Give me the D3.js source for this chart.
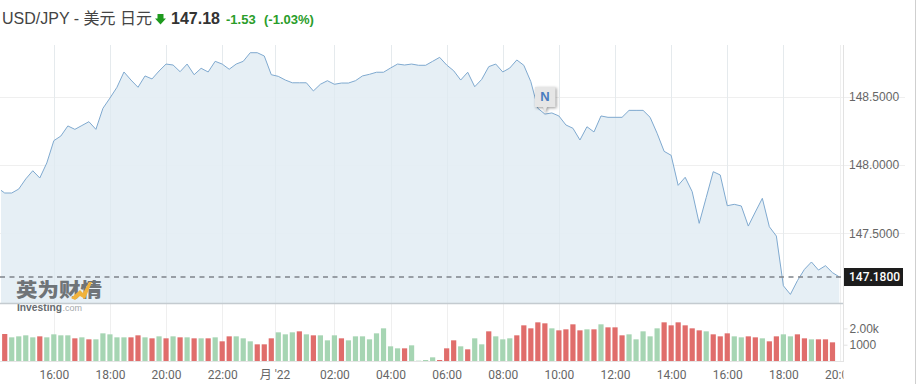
<html lang="zh">
<head>
  <meta charset="UTF-8"/>
  <script src="https://d3js.org/d3.v7.min.js"></script>
  <style>
body { margin: 0; background: #fff; }
svg { display: block; font-family: Roboto, sans-serif; }
.axisText { font-size: 12px; fill: #666; }
.grid { stroke: #efefef; stroke-width: 1; }
  </style>
</head>
<body>
<svg width="918" height="384"></svg>
<script>
// one close every 15 minutes, from 14:00 to 20:00 the next day
const prices = [
  147.832,147.795,147.795,147.824,147.898,147.958,147.905,148.015,148.178,148.212,
  148.286,148.261,148.289,148.317,148.261,148.415,148.490,148.569,148.681,148.622,
  148.569,148.652,148.630,148.688,148.739,148.732,148.683,148.739,148.661,148.708,
  148.681,148.759,148.739,148.701,148.739,148.759,148.822,148.822,148.798,148.661,
  148.649,148.622,148.602,148.602,148.602,148.542,148.591,148.617,148.591,148.600,
  148.600,148.617,148.652,148.664,148.679,148.679,148.710,148.739,148.732,148.739,
  148.730,148.730,148.759,148.788,148.732,148.690,148.622,148.679,148.573,148.627,
  148.720,148.739,148.681,148.710,148.769,148.730,148.610,148.415,148.373,148.381,
  148.359,148.293,148.269,148.183,148.280,148.242,148.359,148.349,148.349,148.349,
  148.400,148.400,148.400,148.349,148.232,148.100,148.071,147.851,147.910,147.805,
  147.573,147.762,147.951,147.927,147.702,147.712,147.700,147.553,147.656,147.756,
  147.548,147.480,147.116,147.053,147.153,147.236,147.290,147.231,147.263,147.212,
  147.180
];

// volume bars start at 14:15 and stop at 19:45
const volumes = [
  1656,1452,1513,1575,1452,1513,1452,1636,1575,1575,1391,1452,1329,1329,1697,1636,
  1452,1452,1452,1575,1452,1391,1513,1391,1513,1452,1452,1391,1391,1391,1452,1207,
  1513,1513,1391,1207,1023,1023,1391,1759,1636,1759,1820,1636,1575,1575,1268,1575,
  1391,1268,1513,1513,1329,1697,2004,900,777,777,961,20,61,225,61,777,1268,900,
  716,1391,1023,1820,1513,1329,1391,1575,2188,2004,2372,2311,2004,1881,1943,2250,
  1881,1943,1943,2250,2065,2065,1575,1636,1329,1820,1513,2004,2372,2188,2372,2188,
  2004,1881,1820,1636,1513,1697,1513,1452,1513,1452,1391,1207,1513,1636,1513,1636,
  1391,1329,1329,1329,1145
];

// r = closed down on the volume panel, g = closed up
const volumeColors = (
  "rgggg rgggg rgrgg gggrr grgrg rgrgr grrgg grrrg" + "g" +
  "grgrg ggrgg ggggg grggg grrrg rggrg ggrrr rrgrr" +
  "rrgrg rrrgg gggrr rrrrg rrrgg rrgrr ggrrg rrrrg ggrgr"
).replace(/ /g, "").split("");

const priceTicks = [147.5, 148, 148.5];
const priceTickLabels = ["147.5000", "148.0000", "148.5000"];
const volumeTicks = [1000, 2000];
const volumeTickLabels = ["1000", "2.00k"];
const lastPrice = 147.18;

const timeTicks = [
  "2022-10-31T16:00", "2022-10-31T18:00", "2022-10-31T20:00", "2022-10-31T22:00",
  "2022-10-31T23:52", "2022-11-01T02:00", "2022-11-01T04:00", "2022-11-01T06:00",
  "2022-11-01T08:00", "2022-11-01T10:00", "2022-11-01T12:00", "2022-11-01T14:00",
  "2022-11-01T16:00", "2022-11-01T18:00", "2022-11-01T20:00"
].map(d => new Date(d));
const timeLabels = ["16:00","18:00","20:00","22:00","月 '22","02:00","04:00","06:00","08:00","10:00","12:00","14:00","16:00","18:00","20:00"];

const start = new Date("2022-10-31T14:00");
const step = 15 * 60 * 1000;
const times = prices.map((d, i) => new Date(+start + i * step));

const svg = d3.select("svg");

const x = d3.scaleTime().domain([times[0], times[times.length - 1]]).range([-2.3, 839.5]);
const y = d3.scaleLinear().domain([148, 147.5]).range([165, 233.3]);
const yVol = d3.scaleLinear().domain([0, 1000]).range([361, 344.7]);

const plotBottom = 303, plotTop = 45, axisX = 843.5;

svg.append("clipPath").attr("id", "plotClip")
  .append("rect").attr("x", 1).attr("y", plotTop).attr("width", 838.7).attr("height", plotBottom - plotTop);
// the last time label is cut off at the axis line
svg.append("clipPath").attr("id", "labelClip")
  .append("rect").attr("x", 0).attr("y", 362).attr("width", axisX).attr("height", 22);

// grid
svg.append("g").selectAll("line").data(timeTicks).join("line")
  .attr("class", "grid")
  .attr("x1", d => Math.round(x(d)) + 0.5).attr("x2", d => Math.round(x(d)) + 0.5)
  .attr("y1", plotTop).attr("y2", 361);
svg.append("g").selectAll("line").data(priceTicks).join("line")
  .attr("class", "grid")
  .attr("x1", 0).attr("x2", 905)
  .attr("y1", d => Math.round(y(d)) + 0.5).attr("y2", d => Math.round(y(d)) + 0.5);

// price area
const area = d3.area().x((d, i) => x(times[i])).y0(plotBottom).y1(d => y(d));
const line = d3.line().x((d, i) => x(times[i])).y(d => y(d));
const plot = svg.append("g").attr("clip-path", "url(#plotClip)");
plot.append("path").datum(prices).attr("d", area).attr("fill", "#e3edf4").attr("fill-opacity", 0.9);
// redraw the gridlines faintly through the area
plot.selectAll("line.v").data(timeTicks).join("line").attr("class", "v")
  .attr("x1", d => Math.round(x(d)) + 0.5).attr("x2", d => Math.round(x(d)) + 0.5)
  .attr("y1", plotTop).attr("y2", plotBottom).attr("stroke", "#d9e4ec").attr("stroke-opacity", 0.45);
plot.append("path").datum(prices).attr("d", line)
  .attr("fill", "none").attr("stroke", "#7fa9cf").attr("stroke-width", 1);

// watermark
const mark = svg.append("g");
mark.append("text").attr("x", 16).attr("y", 297)
  .style("font-family", "'Noto Sans CJK SC'").style("font-size", "19px").style("font-weight", 900)
  .attr("fill", "#6f7478").attr("textLength", 86).attr("lengthAdjust", "spacingAndGlyphs").text("英为财情");
mark.append("path").attr("d", "M71 298 L80 290 L83 293 L89 282 L92 282 L85 299 L80 296 L75 300 Z").attr("fill", "#f0b23c");
mark.append("text").attr("x", 17).attr("y", 311)
  .style("font-family", "'Liberation Sans'").style("font-size", "10.5px").style("font-weight", 700)
  .attr("fill", "#666b70").attr("textLength", 45).attr("lengthAdjust", "spacingAndGlyphs").text("Investing");
mark.append("text").attr("x", 62.5).attr("y", 311)
  .style("font-family", "'Liberation Sans'").style("font-size", "9px")
  .attr("fill", "#a4a8ab").text(".com");

// divider under the price panel
svg.append("line").attr("x1", 0).attr("x2", axisX).attr("y1", 303.5).attr("y2", 303.5)
  .attr("stroke", "#c4cbd0").attr("stroke-width", 1.3);

// last price
svg.append("line").attr("x1", 0).attr("x2", axisX).attr("y1", y(lastPrice)).attr("y2", y(lastPrice))
  .attr("stroke", "#7f848a").attr("stroke-width", 1.4).attr("stroke-dasharray", "5 4.5");

// volume bars
svg.append("g").selectAll("rect").data(volumes).join("rect")
  .attr("x", (d, i) => x(times[i + 1]) - 2.6)
  .attr("width", 5.2)
  .attr("y", d => yVol(d))
  .attr("height", d => yVol(0) - yVol(d))
  .attr("fill", (d, i) => volumeColors[i] === "r" ? "#e06d6b" : "#a6d5b3");

// axes
const xAxis = d3.axisBottom(x).tickValues(timeTicks).tickSize(0).tickPadding(6)
  .tickFormat((d, i) => timeLabels[i]);
const xG = svg.append("g").attr("clip-path", "url(#labelClip)")
  .append("g").attr("transform", "translate(0,364)").call(xAxis);
xG.select(".domain").remove();
xG.selectAll("text").attr("class", "axisText").attr("fill", null).style("font-family", "Roboto, 'Noto Sans CJK SC', sans-serif");

svg.append("line").attr("x1", 0).attr("x2", axisX).attr("y1", 361.5).attr("y2", 361.5).attr("stroke", "#e4e4e4");
svg.append("line").attr("x1", axisX).attr("x2", axisX).attr("y1", plotTop).attr("y2", 362).attr("stroke", "#e2e2e2");

const yAxis = d3.axisRight(y).tickValues(priceTicks).tickSize(0).tickPadding(6)
  .tickFormat((d, i) => priceTickLabels[i]);
const yG = svg.append("g").attr("transform", `translate(${axisX - 0.5},0)`).call(yAxis);
yG.select(".domain").remove();
yG.selectAll("text").attr("class", "axisText").attr("fill", null);

const volAxis = d3.axisRight(yVol).tickValues(volumeTicks).tickSize(4).tickPadding(2)
  .tickFormat((d, i) => volumeTickLabels[i]);
const volG = svg.append("g").attr("transform", `translate(${axisX},0)`).call(volAxis);
volG.select(".domain").remove();
volG.selectAll("line").attr("stroke", "#e2e2e2");
volG.selectAll("text").attr("class", "axisText").attr("fill", null);

// last price label
svg.append("rect").attr("x", 844).attr("y", y(lastPrice) - 9).attr("width", 59).attr("height", 18).attr("fill", "#1c1c1c");
svg.append("text").attr("x", 849).attr("y", y(lastPrice) + 4.3)
  .style("font-size", "12px").style("font-weight", 500).attr("fill", "#fff").text("147.1800");

// news flag
const flag = svg.append("g");
flag.append("path").attr("d", "M535 87 H555.5 V107 H547 L545 113 L543 107 H535 Z")
  .attr("fill", "#e6e6e6").style("filter", "drop-shadow(1.5px 1.5px 1.5px rgba(0,0,0,0.4))");
flag.append("text").attr("x", 545).attr("y", 101).attr("text-anchor", "middle")
  .style("font-family", "'Liberation Sans'").style("font-size", "13px").style("font-weight", 700)
  .attr("fill", "#4a7dbf").text("N");

// right border
svg.append("line").attr("x1", 915.5).attr("x2", 915.5).attr("y1", 0).attr("y2", 384).attr("stroke", "#cfcfcf");

// header
const head = svg.append("g").style("font-family", "'Liberation Sans', 'Noto Sans CJK SC', sans-serif");
head.append("text").attr("x", 2).attr("y", 24).style("font-size", "16px").attr("fill", "#444").text("USD/JPY - 美元 日元");
head.append("path").attr("d", "M157.5 14 H163.5 V18.5 H166 L160.5 24.5 L155 18.5 H157.5 Z").attr("fill", "#1e9a1e");
head.append("text").attr("x", 171).attr("y", 24).style("font-size", "16px").style("font-weight", 700).attr("fill", "#333").text("147.18");
head.append("text").attr("x", 226).attr("y", 24).style("font-size", "13px").style("font-weight", 700).attr("fill", "#2a9d2a").text("-1.53");
head.append("text").attr("x", 264).attr("y", 24).style("font-size", "13px").style("font-weight", 700).attr("fill", "#2a9d2a").text("(-1.03%)");
</script>
</body>
</html>
